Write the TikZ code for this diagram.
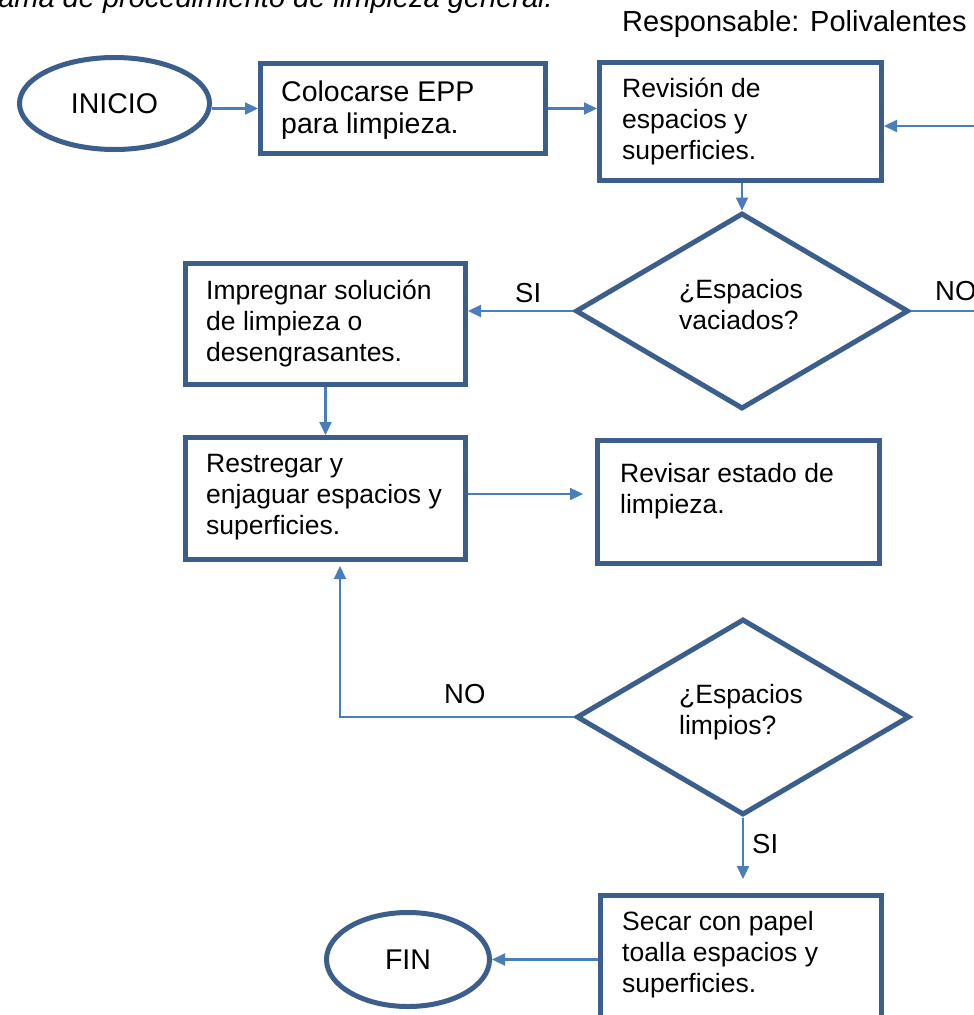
\documentclass[tikz,border=0pt]{standalone}
\usepackage{fontspec}
\setmainfont{Liberation Sans}
\usetikzlibrary{shapes.geometric,arrows.meta}
\definecolor{edge}{RGB}{59,94,140}
\definecolor{link}{RGB}{74,126,187}
\begin{document}
\begin{tikzpicture}[x=1pt,y=-1pt,
  frame/.style={draw=edge, line width=5pt, fill=white, inner sep=0pt},
  stepbox/.style={frame, rectangle},
  terminal/.style={frame, ellipse, font=\fontsize{28.5}{33}\selectfont},
  decision/.style={frame, diamond},
  txt/.style={inner sep=0pt, anchor=north west, align=left, font=\fontsize{26.5}{31}\selectfont},
  bigtxt/.style={txt, font=\fontsize{28.5}{32}\selectfont},
  conn/.style={draw=link, line width=2.2pt, -{Triangle[length=13pt,width=12pt]}},
  tag/.style={inner sep=0pt, anchor=base west, font=\fontsize{27.5}{33}\selectfont},
]
\useasboundingbox (0,0) rectangle (974,1015);
\clip (0,0) rectangle (974,1015);
\fill[white] (0,0) rectangle (974,1015);

% heading lines
\node[inner sep=0pt, anchor=base east, font=\fontsize{29}{34}\selectfont\itshape] (title) at (553,7) {ama de procedimiento de limpieza general.};
\node[inner sep=0pt, anchor=base west, font=\fontsize{29}{34}\selectfont] (resp) at (622,31) {Responsable: Polivalentes};

% shapes
\node[terminal, minimum width=190pt, minimum height=92pt] (ini) at (114.5,103.5) {INICIO};
\node[stepbox, minimum width=285pt, minimum height=90pt] (col) at (403,108.5) {};
\node[stepbox, minimum width=282pt, minimum height=118pt] (rev) at (740.5,121.5) {};
\node[decision, minimum width=333pt, minimum height=196pt] (dia1) at (742,311) {};
\node[stepbox, minimum width=280pt, minimum height=121pt] (imp) at (325.5,324) {};
\node[stepbox, minimum width=280pt, minimum height=122pt] (res) at (325.5,498.5) {};
\node[stepbox, minimum width=282pt, minimum height=123pt] (rvs) at (738.5,502) {};
\node[decision, minimum width=333pt, minimum height=196pt] (dia2) at (743,717) {};
\node[stepbox, minimum width=281pt, minimum height=145pt] (sec) at (741,968) {};
\node[terminal, minimum width=163pt, minimum height=94pt] (fin) at (408,959.5) {FIN};

% texts inside the shapes
\node[bigtxt] (col-t) at (281,78.6) {\strut Colocarse EPP\\para limpieza.};
\node[txt] (rev-t) at (622,75.3) {\strut Revisión de\\espacios y\\superficies.};
\node[txt] (dia1-t) at (679,276.3) {\strut ¿Espacios\\vaciados?};
\node[txt] (imp-t) at (206,277.3) {\strut Impregnar solución\\de limpieza o\\desengrasantes.};
\node[txt] (res-t) at (206,450.3) {\strut Restregar y\\enjaguar espacios y\\superficies.};
\node[txt] (rvs-t) at (620,460.3) {\strut Revisar estado de\\limpieza.};
\node[txt] (dia2-t) at (679,681.3) {\strut ¿Espacios\\limpios?};
\node[txt] (sec-t) at (622,908.3) {\strut Secar con papel\\toalla espacios y\\superficies.};

% connectors (the NO loop of the first decision runs out past the right edge)
\draw[conn] (ini.east |- col.west) -- (col.west);
\draw[conn] (col.east) -- (col.east -| rev.west);
\draw[conn] (rev.south -| dia1.north) -- (dia1.north);
\draw[conn] (dia1.east) -- ++(110,0) |- ([yshift=-4.5pt]rev.east);
\draw[conn] (dia1.west) -- (dia1.west -| imp.east);
\draw[conn] (imp.south) -- (res.north);
\draw[conn, shorten >=12pt] ([yshift=4.5pt]res.east) -- ([yshift=4.5pt]res.east -| rvs.west);
\draw[conn, shorten >=4pt] (dia2.west) -| ([xshift=14.5pt]res.south);
\draw[conn, shorten >=14pt] (dia2.south) -- (dia2.south |- sec.north);
\draw[conn] (sec.west |- fin.east) -- (fin.east);

% branch labels
\node[tag] (si1) at (515,302) {SI};
\node[tag] (no1) at (935,300) {NO};
\node[tag] (no2) at (444,703) {NO};
\node[tag] (si2) at (752,853) {SI};
\end{tikzpicture}
\end{document}
